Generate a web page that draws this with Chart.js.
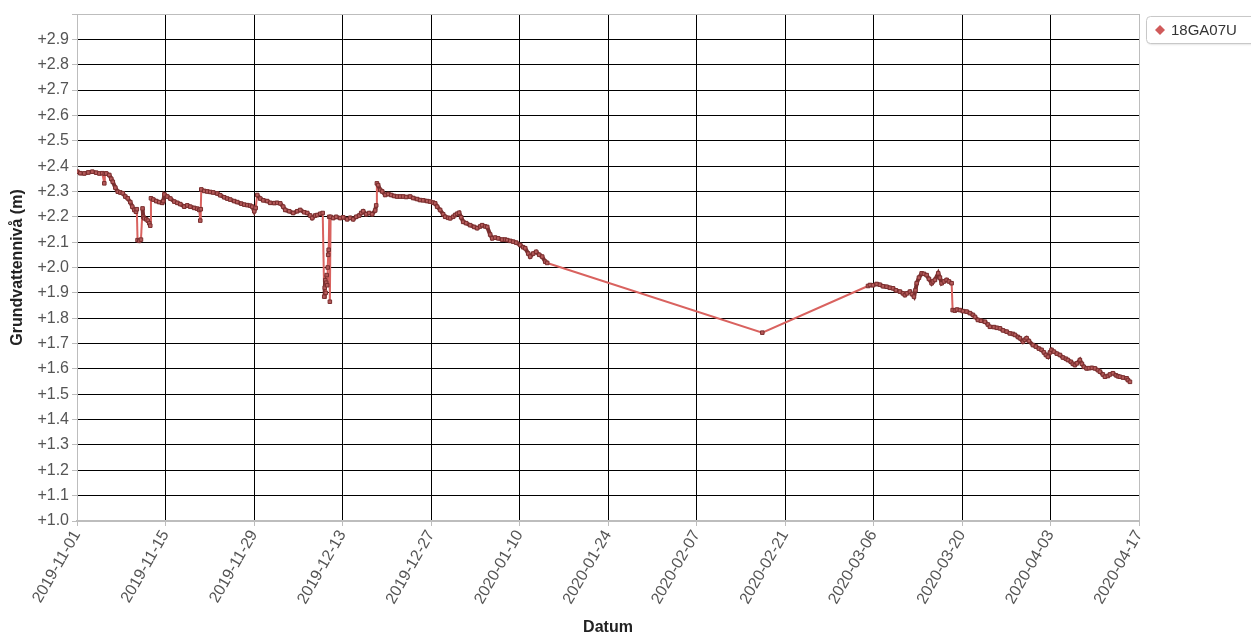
<!DOCTYPE html>
<html>
<head>
<meta charset="utf-8">
<script src="https://cdn.jsdelivr.net/npm/chart.js@4.4.1/dist/chart.umd.min.js"></script>
<style>
  html, body { margin: 0; padding: 0; background: #fff; }
  #wrap { width: 1251px; height: 635px; position: relative; }
</style>
</head>
<body>
<div id="wrap"><canvas id="c" width="1251" height="635"></canvas></div>
<script>
// Days since 2019-11-01 (fractional) and groundwater level (m)
const seriesName = '18GA07U';
const tickLabels = ['2019-11-01','2019-11-15','2019-11-29','2019-12-13','2019-12-27','2020-01-10','2020-01-24','2020-02-07','2020-02-21','2020-03-06','2020-03-20','2020-04-03','2020-04-17'];
const days = [
  0.05,0.52,1.15,1.79,2.42,3.05,3.53,4.0,4.32,4.40,4.63,5.11,5.42,5.66,6.06,6.45,6.85,7.24,7.64,8.03,8.43,8.74,9.06,9.33,9.46,
  9.58,9.85,10.12,10.37,10.48,10.64,10.96,11.2,11.43,11.59,11.70,12.07,12.54,13.01,13.49,13.65,13.82,14.29,14.77,15.39,15.87,
  16.34,16.97,17.44,17.92,18.55,19.02,19.34,19.5,19.58,19.66,20.13,20.6,21.08,21.55,22.19,22.66,23.29,23.77,24.24,24.87,25.35,
  25.98,26.46,26.93,27.4,27.72,28.04,28.27,28.51,28.99,29.46,30.09,30.57,31.2,31.67,32.15,32.62,32.94,33.57,34.2,34.84,35.31,
  35.94,36.42,36.89,37.21,37.68,38.0,38.48,38.87,39.11,39.19,39.27,39.35,39.42,39.5,39.58,39.66,39.74,39.82,39.9,40.0,40.12,
  40.53,41.0,41.63,42.11,42.74,43.22,43.69,44.17,44.64,44.96,45.27,45.75,46.22,46.69,47.17,47.33,47.44,47.64,47.96,48.28,48.75,
  49.23,49.7,50.18,50.65,51.12,51.6,52.07,52.7,53.18,53.81,54.28,54.76,55.39,55.86,56.34,56.66,56.97,57.44,57.92,58.24,58.71,
  59.03,59.5,59.82,60.13,60.45,60.77,61.09,61.56,62.19,62.83,63.3,63.78,64.09,64.57,64.89,65.36,65.68,66.15,66.63,67.26,67.73,
  68.05,68.53,69.0,69.48,70.11,70.58,70.9,71.38,71.69,72.17,72.64,73.12,73.59,74.07,74.38,
  108.41,
  125.13,125.44,125.92,126.5,127.02,127.5,128.08,128.6,129.08,129.55,130.18,130.66,130.97,131.29,131.77,132.08,132.4,132.64,
  132.83,133.19,133.62,133.98,134.41,134.77,135.2,135.4,135.72,136.24,136.51,136.78,137.14,137.57,137.93,138.36,138.52,138.88,
  139.2,139.67,140.15,140.73,141.26,141.73,142.05,142.52,143.0,143.63,144.1,144.42,145.05,145.53,146.0,146.48,147.06,147.58,
  148.06,148.37,148.85,149.16,149.64,149.95,150.22,150.58,151.22,151.69,152.17,152.59,152.96,153.27,153.59,153.91,154.17,154.54,
  155.01,155.49,155.96,156.44,156.75,157.23,157.54,157.86,158.18,158.65,158.97,159.28,159.71,160.08,160.55,161.03,161.5,161.82,
  162.29,162.61,163.08,163.4,163.87,164.35,164.66,164.98,165.46,166.04,166.25,166.57
];
const levels = [
  2.378,2.372,2.371,2.375,2.378,2.374,2.371,2.372,2.332,2.37,2.371,2.365,2.35,2.338,2.315,2.299,2.296,2.293,2.28,2.273,2.258,2.24,2.227,2.22,2.23,
  2.108,2.105,2.11,2.233,2.2,2.194,2.19,2.185,2.175,2.165,2.273,2.268,2.262,2.258,2.255,2.262,2.288,2.28,2.272,2.26,2.255,
  2.25,2.24,2.245,2.24,2.235,2.232,2.227,2.185,2.23,2.308,2.302,2.30,2.298,2.296,2.292,2.285,2.277,2.272,2.268,2.262,2.258,
  2.252,2.248,2.246,2.244,2.24,2.222,2.235,2.286,2.272,2.265,2.262,2.255,2.254,2.255,2.253,2.24,2.227,2.222,2.215,2.222,2.227,
  2.218,2.215,2.205,2.195,2.205,2.207,2.212,2.215,1.885,1.92,1.95,1.90,1.94,1.97,1.93,2.0,2.05,2.07,2.20,1.865,2.20,
  2.195,2.2,2.195,2.198,2.19,2.196,2.19,2.2,2.205,2.215,2.222,2.21,2.215,2.21,2.225,2.245,2.332,2.325,2.306,2.30,2.286,
  2.29,2.286,2.282,2.28,2.28,2.28,2.278,2.28,2.274,2.27,2.266,2.265,2.262,2.26,2.256,2.253,2.24,2.227,2.21,2.20,2.196,
  2.194,2.2,2.207,2.212,2.216,2.198,2.18,2.175,2.167,2.16,2.155,2.162,2.167,2.162,2.16,2.13,2.115,2.118,2.115,2.11,2.11,
  2.108,2.105,2.102,2.098,2.089,2.08,2.076,2.055,2.043,2.055,2.062,2.05,2.043,2.023,2.018,
  1.743,
  1.927,1.931,1.93,1.935,1.932,1.926,1.924,1.92,1.918,1.91,1.905,1.898,1.891,1.898,1.905,1.895,1.885,1.91,
  1.938,1.96,1.977,1.975,1.97,1.955,1.938,1.945,1.951,1.977,1.96,1.938,1.945,1.951,1.945,1.938,1.832,1.83,
  1.834,1.832,1.828,1.826,1.82,1.813,1.805,1.793,1.79,1.786,1.775,1.766,1.765,1.762,1.76,1.752,1.747,1.74,
  1.738,1.734,1.726,1.721,1.707,1.715,1.721,1.71,1.694,1.688,1.68,1.675,1.665,1.655,1.648,1.665,1.675,1.668,
  1.66,1.655,1.645,1.64,1.635,1.628,1.62,1.615,1.622,1.635,1.62,1.608,1.602,1.603,1.604,1.602,1.595,1.589,
  1.578,1.569,1.572,1.578,1.583,1.575,1.571,1.569,1.566,1.563,1.556,1.549
];

const points = days.map((d, i) => ({ x: d, y: levels[i] }));
const DARK = '#7a2f2f';
const LIGHT = '#d9625f';
const FONT = '"Liberation Sans", Arial, sans-serif';

const legendPlugin = {
  id: 'customLegend',
  afterDraw(chart) {
    const c = chart.ctx;
    c.save();
    const x = 1146.5, y = 16.5, w = 120, h = 27, r = 4;
    c.beginPath();
    c.moveTo(x + r, y);
    c.lineTo(x + w, y);
    c.lineTo(x + w, y + h);
    c.lineTo(x + r, y + h);
    c.quadraticCurveTo(x, y + h, x, y + h - r);
    c.lineTo(x, y + r);
    c.quadraticCurveTo(x, y, x + r, y);
    c.closePath();
    c.fillStyle = '#ffffff';
    c.shadowColor = 'rgba(0,0,0,0.15)';
    c.shadowBlur = 2;
    c.shadowOffsetX = 1;
    c.shadowOffsetY = 1;
    c.fill();
    c.shadowColor = 'transparent';
    c.strokeStyle = '#c8c8c8';
    c.lineWidth = 1;
    c.stroke();
    const cx = 1160, cy = 30, s = 5;
    c.beginPath();
    c.moveTo(cx, cy - s); c.lineTo(cx + s, cy); c.lineTo(cx, cy + s); c.lineTo(cx - s, cy); c.closePath();
    c.fillStyle = '#d05a5a';
    c.fill();
    c.fillStyle = '#333';
    c.font = '15px ' + FONT;
    c.textBaseline = 'middle';
    c.fillText(seriesName, 1171, 30.5);
    c.restore();
  }
};

new Chart(document.getElementById('c'), {
  type: 'line',
  data: {
    datasets: [{
      label: seriesName,
      data: points,
      borderColor: DARK,
      borderWidth: 4,
      pointStyle: 'rect',
      pointRadius: 2.5,
      pointBackgroundColor: '#b55a5a',
      pointBorderColor: DARK,
      pointBorderWidth: 1,
      tension: 0,
      segment: {
        borderColor: ctx => {
          const dx = Math.abs(ctx.p1.parsed.x - ctx.p0.parsed.x);
          const dy = Math.abs(ctx.p1.parsed.y - ctx.p0.parsed.y);
          return (dx > 2 || dy > 0.035) ? LIGHT : DARK;
        },
        borderWidth: ctx => {
          const dx = Math.abs(ctx.p1.parsed.x - ctx.p0.parsed.x);
          const dy = Math.abs(ctx.p1.parsed.y - ctx.p0.parsed.y);
          return (dx > 2 || dy > 0.035) ? 2 : 4;
        }
      }
    }]
  },
  options: {
    responsive: false,
    animation: false,
    devicePixelRatio: 1,
    layout: { padding: { left: 0, right: 112, top: 14, bottom: 0 } },
    plugins: { legend: { display: false }, tooltip: { enabled: false } },
    scales: {
      x: {
        type: 'linear',
        min: 0, max: 168,
        afterBuildTicks: s => { s.ticks = tickLabels.map((_, i) => ({ value: i * 14 })); },
        afterFit: s => { s.height = 114; },
        ticks: {
          autoSkip: false,
          maxRotation: 60, minRotation: 60,
          color: '#555',
          font: { family: FONT, size: 16 },
          padding: 1,
          callback: v => tickLabels[Math.round(v / 14)]
        },
        grid: {
          color: c => (c.tick && (c.tick.value === 0 || c.tick.value === 168)) ? '#bdbdbd' : '#000000',
          lineWidth: 1,
          tickColor: '#bdbdbd',
          tickLength: 5,
          drawTicks: true
        },
        border: { color: '#bdbdbd', width: 2 },
        title: {
          display: true, text: 'Datum', color: '#222',
          font: { family: FONT, size: 16, weight: 'bold' },
          padding: { top: 0, bottom: -2 }
        }
      },
      y: {
        type: 'linear',
        min: 1.0, max: 3.0,
        afterBuildTicks: s => { const t = []; for (let i = 10; i <= 30; i++) t.push({ value: i / 10 }); s.ticks = t; },
        afterFit: s => { s.width = 77; },
        ticks: {
          color: '#555',
          font: { family: FONT, size: 16 },
          padding: 3,
          callback: v => (v > 2.95 ? '' : '+' + v.toFixed(1))
        },
        grid: {
          color: c => (c.tick && (Math.abs(c.tick.value - 1) < 1e-6 || Math.abs(c.tick.value - 3) < 1e-6)) ? '#bdbdbd' : '#000000',
          lineWidth: 1,
          tickColor: '#bdbdbd',
          tickLength: 5
        },
        border: { color: '#bdbdbd', width: 1 },
        title: {
          display: true, text: 'Grundvattennivå (m)', color: '#222',
          font: { family: FONT, size: 16, weight: 'bold' },
          padding: { top: 8, bottom: 0 }
        }
      }
    }
  },
  plugins: [legendPlugin, {
    id: 'rightBorder',
    afterDraw(chart) {
      const a = chart.chartArea, c = chart.ctx;
      c.save();
      c.strokeStyle = '#bdbdbd';
      c.lineWidth = 1;
      c.beginPath();
      c.moveTo(a.right + 0.5, a.top); c.lineTo(a.right + 0.5, a.bottom);
      c.moveTo(a.left, a.top + 0.5); c.lineTo(a.right, a.top + 0.5);
      c.stroke();
      c.restore();
    }
  }]
});
</script>
</body>
</html>
